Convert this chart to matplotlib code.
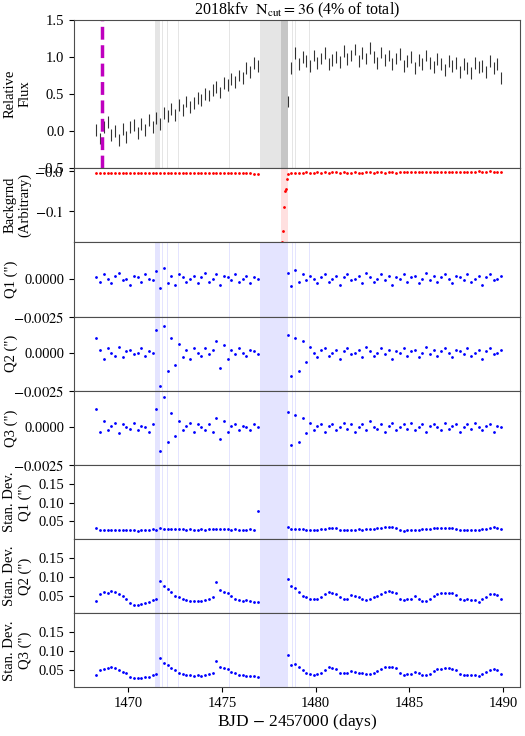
import numpy as np
import matplotlib
matplotlib.use("Agg")
import matplotlib.pyplot as plt

plt.rcParams['font.family'] = ['Liberation Serif', 'DejaVu Serif']
plt.rcParams['mathtext.fontset'] = 'stix'
plt.rcParams['font.size'] = 10.5

t1_start, t2_start, cadence = 1468.3, 1478.5, 0.2

flux1 = [0.02, -0.10, 0.05, 0.12, -0.05, 0.00, -0.12, 0.03, -0.08, 0.06,
         0.08, -0.02, 0.10, 0.02, 0.15, 0.05, 0.18, 0.10, 0.25, 0.20,
         0.30, 0.22, 0.35, 0.28, 0.40, 0.32, 0.38, 0.45, 0.42, 0.50,
         0.48, 0.55, 0.60, 0.52, 0.65, 0.62, 0.70, 0.66, 0.75, 0.72,
         0.85, 0.80, 0.92, 0.88]
flux2 = [0.40, 0.85, 1.05, 0.90, 1.00, 0.95, 0.88, 1.02, 0.92, 0.98,
         1.05, 0.90, 0.96, 1.00, 0.93, 1.08, 0.97, 1.02, 1.10, 0.95,
         1.05, 0.98, 1.12, 1.00, 0.92, 1.06, 0.96, 1.02, 0.90, 0.98,
         1.04, 0.88, 0.95, 1.00, 0.85, 0.96, 0.90, 1.02, 0.92, 0.86,
         0.97, 0.90, 0.82, 0.95, 0.88, 0.92, 0.80, 0.90, 0.85, 0.78,
         0.92, 0.86, 0.88, 0.80, 0.94, 0.85, 0.90, 0.72]
flux_err = 0.08

bkg1 = [-0.004, -0.003, -0.004, -0.003, -0.003, -0.004, -0.003, -0.004, -0.003, -0.003,
        -0.004, -0.004, -0.003, -0.004, -0.003, -0.004, -0.004, -0.003, -0.004, -0.003,
        -0.004, -0.004, -0.003, -0.004, -0.004, -0.003, -0.004, -0.004, -0.003, -0.004,
        -0.004, -0.004, -0.003, -0.004, -0.004, -0.005, -0.004, -0.004, -0.005, -0.004,
        -0.005, -0.005, -0.006, -0.007]
bkg2 = [-0.006, -0.004, -0.003, -0.003, -0.003, -0.002, -0.003, -0.003, -0.002, -0.003,
        -0.002, -0.003, -0.002, -0.002, -0.003, -0.002, -0.003, -0.003, -0.002, -0.003,
        -0.003, -0.002, -0.002, -0.003, -0.002, -0.002, -0.003, -0.002, -0.002, -0.003,
        -0.002, -0.002, -0.002, -0.001, -0.002, -0.002, -0.002, -0.001, -0.002, -0.001,
        -0.002, -0.001, -0.001, -0.002, -0.001, -0.001, -0.001, -0.002, -0.001, -0.001,
        -0.001, 0.000, -0.001, -0.001, 0.000, -0.001, -0.001, -0.001]
dip_t = [1478.2, 1478.25, 1478.3, 1478.35, 1478.4, 1478.45]
dip_v = [-0.18, -0.15, -0.09, -0.05, -0.045, -0.02]

q1_1 = [0.0001, -0.0002, 0.0003, 0.0000, -0.0003, 0.0002, 0.0004, -0.0001, 0.0000, -0.0004,
        0.0002, 0.0001, -0.0002, 0.0003, 0.0000, -0.0001, 0.0005, -0.0006, 0.0007, -0.0003,
        0.0002, -0.0004, 0.0003, 0.0001, -0.0002, 0.0000, 0.0002, -0.0003, 0.0001, 0.0004,
        -0.0002, 0.0000, 0.0003, -0.0004, 0.0002, 0.0001, -0.0001, 0.0003, -0.0002, 0.0000,
        0.0002, -0.0003, 0.0001, 0.0000]
q1_2 = [0.0004, -0.0005, 0.0006, -0.0002, 0.0003, -0.0001, 0.0002, 0.0000, -0.0003, 0.0001,
        0.0003, -0.0002, 0.0000, 0.0002, -0.0004, 0.0001, 0.0003, -0.0001, 0.0000, 0.0002,
        -0.0003, 0.0004, 0.0001, -0.0002, 0.0000, 0.0003, -0.0001, 0.0002, -0.0004, 0.0001,
        0.0000, 0.0003, -0.0002, 0.0001, 0.0002, -0.0003, 0.0000, 0.0004, -0.0001, 0.0002,
        -0.0002, 0.0001, 0.0003, 0.0000, -0.0003, 0.0002, 0.0001, -0.0001, 0.0003, -0.0002,
        0.0000, 0.0002, -0.0004, 0.0001, 0.0003, -0.0001, 0.0000, 0.0002]
q2_1 = [0.0010, 0.0002, -0.0004, 0.0003, 0.0000, -0.0002, 0.0004, -0.0003, 0.0001, 0.0002,
        -0.0001, 0.0000, 0.0003, -0.0002, 0.0001, 0.0000, 0.0015, -0.0022, 0.0018, -0.0012,
        0.0010, -0.0008, 0.0006, -0.0003, 0.0002, -0.0004, 0.0003, 0.0000, -0.0002, 0.0003,
        -0.0001, 0.0002, 0.0008, -0.0010, 0.0005, -0.0004, 0.0002, -0.0001, 0.0003, 0.0000,
        -0.0002, 0.0002, 0.0001, -0.0001]
q2_2 = [0.0012, -0.0015, 0.0010, -0.0012, 0.0008, -0.0006, 0.0004, 0.0000, -0.0003, 0.0002,
        0.0003, -0.0002, 0.0000, 0.0002, -0.0004, 0.0001, 0.0003, -0.0001, 0.0000, 0.0002,
        -0.0003, 0.0004, 0.0001, -0.0002, 0.0000, 0.0003, -0.0001, 0.0002, -0.0004, 0.0001,
        0.0000, 0.0003, -0.0002, 0.0001, 0.0002, -0.0003, 0.0000, 0.0004, -0.0001, 0.0002,
        -0.0002, 0.0001, 0.0003, 0.0000, -0.0003, 0.0002, 0.0001, -0.0001, 0.0003, -0.0002,
        0.0000, 0.0002, -0.0004, 0.0001, 0.0003, -0.0001, 0.0000, 0.0002]
q3_1 = [0.0012, -0.0003, 0.0004, -0.0002, 0.0001, 0.0003, -0.0004, 0.0002, 0.0000, -0.0001,
        0.0003, -0.0002, 0.0001, 0.0000, -0.0003, 0.0002, 0.0012, -0.0016, 0.0020, -0.0010,
        0.0009, -0.0006, 0.0004, -0.0002, 0.0001, 0.0003, -0.0003, 0.0002, 0.0000, -0.0002,
        0.0002, -0.0003, 0.0006, -0.0008, 0.0004, -0.0003, 0.0001, 0.0002, -0.0002, 0.0001,
        0.0000, -0.0002, 0.0002, 0.0000]
q3_2 = [0.0010, -0.0012, 0.0008, -0.0010, 0.0006, -0.0004, 0.0003, -0.0002, 0.0001, 0.0002,
        -0.0003, 0.0001, 0.0002, -0.0002, 0.0000, 0.0003, -0.0001, 0.0002, -0.0003, 0.0000,
        0.0002, -0.0002, 0.0004, 0.0000, -0.0001, 0.0002, -0.0003, 0.0001, 0.0003, -0.0002,
        0.0000, 0.0002, -0.0001, 0.0003, -0.0002, 0.0000, 0.0002, -0.0003, 0.0001, 0.0002,
        0.0000, -0.0002, 0.0003, -0.0001, 0.0001, 0.0002, -0.0003, 0.0000, 0.0002, -0.0001,
        0.0003, 0.0000, -0.0002, 0.0001, 0.0002, -0.0003, 0.0001, 0.0000]

sd1_1 = [0.032, 0.027, 0.028, 0.027, 0.028, 0.027, 0.028, 0.028, 0.027, 0.028,
         0.027, 0.025, 0.027, 0.028, 0.028, 0.029, 0.028, 0.032, 0.031, 0.031,
         0.030, 0.030, 0.029, 0.029, 0.028, 0.029, 0.028, 0.028, 0.029, 0.028,
         0.029, 0.030, 0.031, 0.030, 0.029, 0.029, 0.028, 0.029, 0.028, 0.028,
         0.028, 0.029, 0.028, 0.078]
sd1_2 = [0.036, 0.030, 0.031, 0.030, 0.029, 0.028, 0.028, 0.027, 0.028, 0.029,
         0.030, 0.032, 0.033, 0.032, 0.027, 0.026, 0.027, 0.028, 0.028, 0.029,
         0.028, 0.029, 0.029, 0.030, 0.032, 0.033, 0.035, 0.034, 0.034, 0.033,
         0.026, 0.025, 0.026, 0.027, 0.028, 0.028, 0.029, 0.030, 0.030, 0.032,
         0.033, 0.033, 0.032, 0.033, 0.032, 0.031, 0.027, 0.026, 0.027, 0.027,
         0.028, 0.028, 0.029, 0.030, 0.032, 0.034, 0.033, 0.030]
sd2_1 = [0.035, 0.055, 0.060, 0.058, 0.062, 0.060, 0.055, 0.048, 0.040, 0.030,
         0.026, 0.024, 0.027, 0.030, 0.033, 0.038, 0.042, 0.088, 0.075, 0.068,
         0.060, 0.050, 0.045, 0.040, 0.038, 0.036, 0.035, 0.036, 0.035, 0.037,
         0.040, 0.045, 0.085, 0.065, 0.060, 0.058, 0.050, 0.042, 0.038, 0.036,
         0.037, 0.035, 0.034, 0.032]
sd2_2 = [0.095, 0.075, 0.070, 0.060, 0.050, 0.045, 0.042, 0.040, 0.040, 0.045,
         0.055, 0.060, 0.058, 0.055, 0.045, 0.040, 0.042, 0.052, 0.050, 0.045,
         0.040, 0.038, 0.040, 0.045, 0.050, 0.055, 0.060, 0.062, 0.060, 0.058,
         0.042, 0.038, 0.040, 0.040, 0.048, 0.042, 0.036, 0.035, 0.040, 0.050,
         0.055, 0.056, 0.057, 0.058, 0.056, 0.052, 0.040, 0.038, 0.040, 0.038,
         0.038, 0.034, 0.040, 0.045, 0.055, 0.053, 0.052, 0.040]
sd3_1 = [0.035, 0.048, 0.052, 0.055, 0.058, 0.055, 0.050, 0.045, 0.040, 0.032,
         0.028, 0.027, 0.029, 0.030, 0.032, 0.035, 0.038, 0.080, 0.068, 0.062,
         0.055, 0.048, 0.042, 0.038, 0.036, 0.035, 0.034, 0.035, 0.034, 0.036,
         0.038, 0.042, 0.072, 0.058, 0.055, 0.052, 0.045, 0.040, 0.036, 0.035,
         0.034, 0.034, 0.033, 0.032]
sd3_2 = [0.090, 0.062, 0.065, 0.058, 0.048, 0.042, 0.038, 0.037, 0.038, 0.042,
         0.050, 0.057, 0.055, 0.052, 0.042, 0.040, 0.040, 0.046, 0.045, 0.042,
         0.040, 0.038, 0.038, 0.042, 0.046, 0.052, 0.056, 0.058, 0.056, 0.054,
         0.040, 0.036, 0.038, 0.038, 0.045, 0.040, 0.036, 0.035, 0.038, 0.046,
         0.052, 0.053, 0.054, 0.055, 0.053, 0.050, 0.038, 0.036, 0.037, 0.036,
         0.036, 0.034, 0.038, 0.043, 0.050, 0.052, 0.050, 0.038]

cut_spans = [(1471.45, 1471.7), (1471.8, 1471.85), (1472.05, 1472.1), (1472.2, 1472.25),
             (1472.65, 1472.7), (1475.4, 1475.45), (1477.05, 1478.5), (1478.75, 1478.8),
             (1478.9, 1478.95), (1479.3, 1479.35), (1479.65, 1479.7)]
bkg_span = (1478.15, 1478.5)
t_explosion = 1468.6


def times(start, vals):
    return start + cadence * np.arange(len(vals))


def both(a, b):
    t = np.concatenate([times(t1_start, a), times(t2_start, b)])
    return t, np.concatenate([a, b])


fig = plt.figure(figsize=(5.25, 7.36), dpi=100)
gs = fig.add_gridspec(8, 1, height_ratios=[2, 1, 1, 1, 1, 1, 1, 1], hspace=0,
                      left=0.141, right=0.99, top=0.973, bottom=0.066)
axes = [fig.add_subplot(gs[i]) for i in range(8)]
for ax in axes[1:]:
    ax.sharex(axes[0])

# flux
ax = axes[0]
t, f = both(flux1, flux2)
ax.errorbar(t, f, yerr=flux_err, fmt='none', ecolor='k', elinewidth=0.8, alpha=0.8)
ax.axvline(t_explosion, color='m', ls='--', lw=2.5)
for a, b in cut_spans:
    ax.axvspan(a, b, color='grey', alpha=0.2, lw=0)
ax.axvspan(*bkg_span, color='grey', alpha=0.3, lw=0)
ax.set_ylim(-0.5, 1.5)
ax.set_yticks([-0.5, 0.0, 0.5, 1.0, 1.5])
ax.set_ylabel('Relative\nFlux')
ax.set_title(r'2018kfv  $\mathrm{N_{cut}}=36$ (4% of total)', fontsize=11.5, pad=2)

# background
ax = axes[1]
t, b = both(bkg1, bkg2)
ax.plot(t, b, '.', color='r', ms=2)
ax.plot(dip_t, dip_v, '.', color='r', ms=2)
ax.axvspan(*bkg_span, color='r', alpha=0.12, lw=0)
ax.set_ylim(-0.18, 0.008)
ax.set_yticks([-0.1, 0.0])
ax.set_yticklabels([r'$-0.1$', r'$-0.0$'])
ax.set_ylabel('Backgrnd\n(Arbitrary)')

series = [(q1_1, q1_2, 'Q1 (")'), (q2_1, q2_2, 'Q2 (")'), (q3_1, q3_2, 'Q3 (")'),
          (sd1_1, sd1_2, 'Stan. Dev.\nQ1 (")'), (sd2_1, sd2_2, 'Stan. Dev.\nQ2 (")'),
          (sd3_1, sd3_2, 'Stan. Dev.\nQ3 (")')]
for i, (a, b, lab) in enumerate(series):
    ax = axes[i + 2]
    t, v = both(a, b)
    ax.plot(t, v, '.', color='b', ms=2)
    for s, e in cut_spans:
        ax.axvspan(s, e, color=(0.3, 0.3, 1.0), alpha=0.15, lw=0)
    ax.set_ylabel(lab)
    if i < 3:
        ax.set_ylim(-0.0025, 0.0024)
        ax.set_yticks([-0.0025, 0.0])
        ax.set_yticklabels([r'$-0.0025$', '0.0000'])
    else:
        ax.set_ylim(0.003, 0.2)
        ax.set_yticks([0.05, 0.10, 0.15])
        ax.set_yticklabels(['0.05', '0.10', '0.15'])

for i, ax in enumerate(axes):
    ax.set_xlim(1467.1, 1490.9)
    ax.yaxis.set_label_coords(-0.125 if i in (2, 3, 4) else -0.095, 0.5)
    for s in ax.spines.values():
        s.set_color('0.3')
for ax in axes[:-1]:
    ax.tick_params(labelbottom=False)
axes[-1].set_xticks([1470, 1475, 1480, 1485, 1490])
axes[-1].set_xlabel(r'BJD $-$ 2457000 (days)', fontsize=12.5, labelpad=1)

fig.savefig('out.png', dpi=100)
